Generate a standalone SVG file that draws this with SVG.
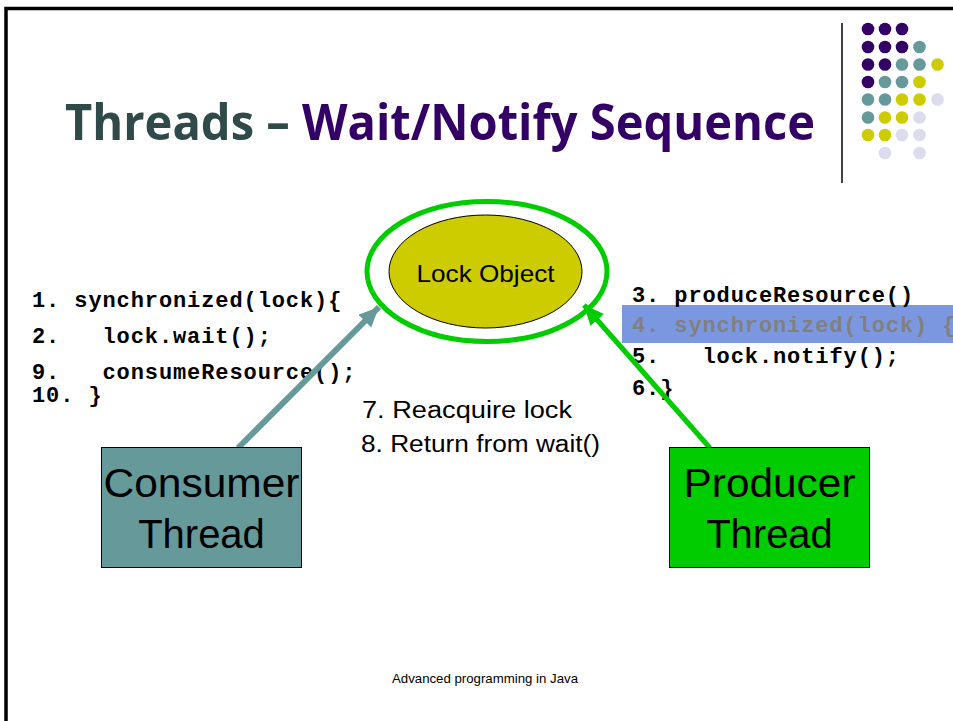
<svg xmlns="http://www.w3.org/2000/svg" width="953" height="721" viewBox="0 0 953 721">
<style>
.code{font-family:"Liberation Mono","Courier New",monospace;font-weight:bold;font-size:22px;letter-spacing:0.9px;fill:#000;white-space:pre}
.sans{font-family:"Liberation Sans",Arial,sans-serif;fill:#000}
.pu{fill:#330066}.te{fill:#669999}.ye{fill:#cccc00}.la{fill:#dcdcec}
</style>
<defs>
<marker id="ahTeal" markerUnits="userSpaceOnUse" markerWidth="24" markerHeight="20" refX="20" refY="9" orient="auto">
<path d="M0,0 L20,9 L0,18 Z" fill="#669999"/>
</marker>
<marker id="ahGreen" markerUnits="userSpaceOnUse" markerWidth="24" markerHeight="20" refX="20" refY="9" orient="auto">
<path d="M0,0 L20,9 L0,18 Z" fill="#00cc00"/>
</marker>
</defs>
<rect width="953" height="721" fill="#fff"/>
<path d="M6,721 V8.5 H953" fill="none" stroke="#000" stroke-width="3.5"/>

<g id="decoration">
<line x1="842" y1="23" x2="842" y2="183" stroke="#000" stroke-width="1.5"/>
<circle class="pu" cx="868" cy="29" r="6.3"/><circle class="pu" cx="885" cy="29" r="6.3"/><circle class="pu" cx="902" cy="29" r="6.3"/>
<circle class="pu" cx="868" cy="47" r="6.3"/><circle class="pu" cx="885" cy="47" r="6.3"/><circle class="pu" cx="902" cy="47" r="6.3"/><circle class="te" cx="919.5" cy="47" r="6.3"/>
<circle class="pu" cx="868" cy="64.5" r="6.3"/><circle class="pu" cx="885" cy="64.5" r="6.3"/><circle class="te" cx="902" cy="64.5" r="6.3"/><circle class="te" cx="919.5" cy="64.5" r="6.3"/><circle class="ye" cx="937.5" cy="64.5" r="6.3"/>
<circle class="pu" cx="868" cy="82" r="6.3"/><circle class="te" cx="885" cy="82" r="6.3"/><circle class="te" cx="902" cy="82" r="6.3"/><circle class="ye" cx="919.5" cy="82" r="6.3"/>
<circle class="te" cx="868" cy="99.5" r="6.3"/><circle class="te" cx="885" cy="99.5" r="6.3"/><circle class="ye" cx="902" cy="99.5" r="6.3"/><circle class="ye" cx="919.5" cy="99.5" r="6.3"/><circle class="la" cx="937.5" cy="99.5" r="6.3"/>
<circle class="te" cx="868" cy="117.5" r="6.3"/><circle class="ye" cx="885" cy="117.5" r="6.3"/><circle class="ye" cx="902" cy="117.5" r="6.3"/><circle class="la" cx="919.5" cy="117.5" r="6.3"/>
<circle class="ye" cx="868" cy="135" r="6.3"/><circle class="ye" cx="885" cy="135" r="6.3"/><circle class="la" cx="902" cy="135" r="6.3"/><circle class="la" cx="919.5" cy="135" r="6.3"/>
<circle class="la" cx="885" cy="153" r="6.3"/><circle class="la" cx="919.5" cy="153" r="6.3"/>
</g>

<g id="title">
<text x="65" y="140" font-family="'Open Sans','DejaVu Sans',sans-serif" font-weight="bold" font-size="50" textLength="750" lengthAdjust="spacingAndGlyphs"><tspan fill="#2f4a48">Threads – </tspan><tspan fill="#330066">Wait/Notify Sequence</tspan></text>
</g>

<g id="consumer-code">
<text class="code" x="32" y="307">1. synchronized(lock){</text>
<text class="code" x="32" y="343">2.   lock.wait();</text>
<text class="code" x="32" y="379">9.   consumeResource();</text>
<text class="code" x="32" y="402">10. }</text>
</g>

<g id="producer-code">
<rect x="622" y="305" width="331" height="38" fill="#7b97e0"/>
<text class="code" x="632" y="302">3. produceResource()</text>
<text class="code" x="632" y="332" style="fill:#808080">4. synchronized(lock) {</text>
<text class="code" x="632" y="363">5.   lock.notify();</text>
<text class="code" x="632" y="395">6.}</text>
</g>

<g id="lock-object">
<ellipse cx="487" cy="271.5" rx="120" ry="70" fill="none" stroke="#00cc00" stroke-width="5"/>
<ellipse cx="485.5" cy="271.5" rx="96.5" ry="56.5" fill="#cccc00" stroke="#000" stroke-width="1"/>
<text class="sans" x="485.5" y="282" font-size="24" text-anchor="middle" textLength="138" lengthAdjust="spacingAndGlyphs">Lock Object</text>
</g>

<g id="connectors">
<line x1="238" y1="448" x2="379" y2="307" stroke="#669999" stroke-width="6" marker-end="url(#ahTeal)"/>
<line x1="710" y1="448" x2="584" y2="305" stroke="#00cc00" stroke-width="5" marker-end="url(#ahGreen)"/>
</g>

<g id="step-labels">
<text class="sans" x="362" y="418" font-size="23" textLength="210" lengthAdjust="spacingAndGlyphs">7. Reacquire lock</text>
<text class="sans" x="361" y="452" font-size="23" textLength="239" lengthAdjust="spacingAndGlyphs">8. Return from wait()</text>
</g>

<g id="consumer-thread">
<rect x="101.5" y="447.5" width="200" height="120" fill="#669999" stroke="#000" stroke-width="1"/>
<text class="sans" x="201.5" y="497" font-size="40" text-anchor="middle" textLength="196" lengthAdjust="spacingAndGlyphs">Consumer</text>
<text class="sans" x="201.5" y="548" font-size="40" text-anchor="middle">Thread</text>
</g>

<g id="producer-thread">
<rect x="669.5" y="447.5" width="200" height="120" fill="#00cc00" stroke="#000" stroke-width="1"/>
<text class="sans" x="769.5" y="497" font-size="40" text-anchor="middle" textLength="172" lengthAdjust="spacingAndGlyphs">Producer</text>
<text class="sans" x="769.5" y="548" font-size="40" text-anchor="middle">Thread</text>
</g>

<g id="footer">
<text class="sans" x="392" y="683" font-size="13" textLength="186" lengthAdjust="spacingAndGlyphs">Advanced programming in Java</text>
</g>
</svg>
